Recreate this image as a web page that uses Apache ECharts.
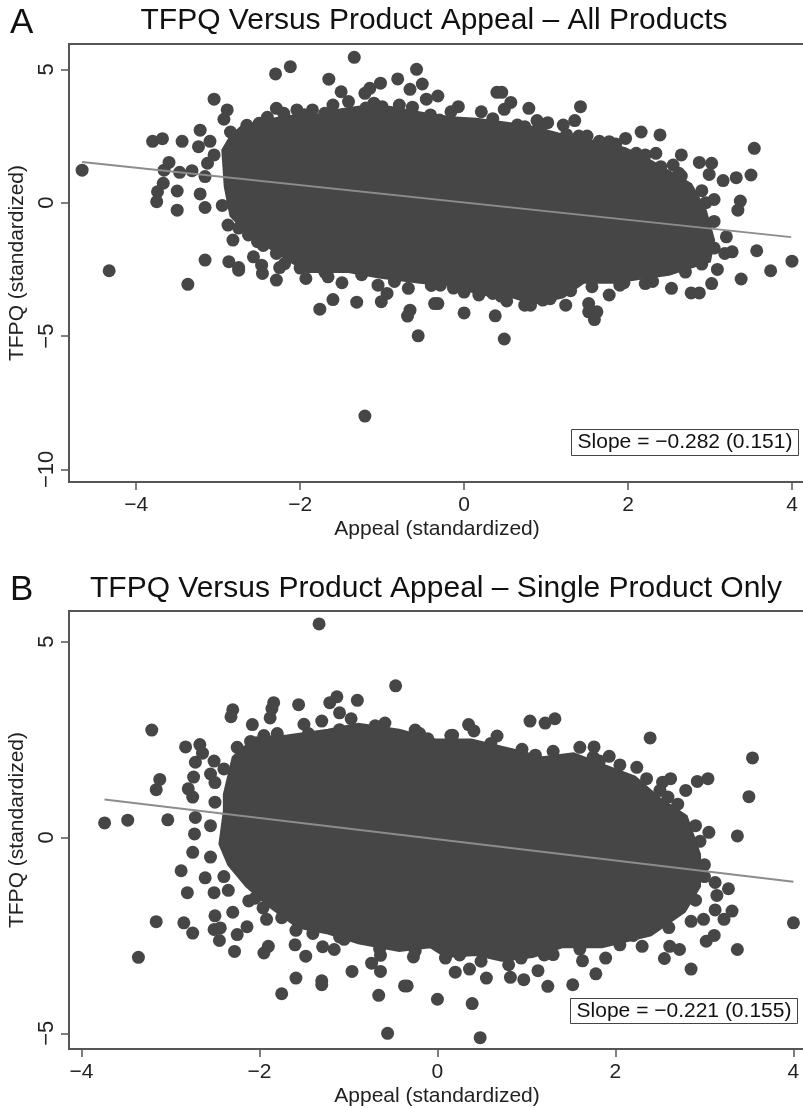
<!DOCTYPE html>
<html><head><meta charset="utf-8">
<style>html,body{margin:0;padding:0;background:#fff;overflow:hidden}#c{width:803px;height:1108px}</style>
<script src="https://cdn.jsdelivr.net/npm/echarts@6/dist/echarts.min.js"></script>
</head><body><div id="c"></div>
<script>
const titleA = 'TFPQ Versus Product Appeal \u2013 All Products';
const titleB = 'TFPQ Versus Product Appeal \u2013 Single Product Only';
const xName = 'Appeal (standardized)';
const yName = 'TFPQ (standardized)';
const slopeA = 'Slope = \u22120.282 (0.151)';
const slopeB = 'Slope = \u22120.221 (0.155)';
const xTicks = [-4,-2,0,2,4];
const yTicksA = [-10,-5,0,5];
const yTicksB = [-5,0,5];
const fitLineA = [[-4.66,1.53],[3.99,-1.29]];
const fitLineB = [[-3.74,0.97],[4.0,-1.13]];

const denseCloudA = [[-2.95,1.98],[-2.85,2.5],[-2.72,2.85],[-2.5,3.05],[-2.16,3.25],[-1.79,3.3],[-1.5,3.5],[-1.29,3.6],[-0.91,3.6],[-0.48,3.35],[-0.16,3.2],[0.15,3.15],[0.52,3.0],[0.84,2.85],[1.15,2.6],[1.52,2.35],[1.96,2.05],[2.21,1.7],[2.46,1.25],[2.77,0.7],[2.95,-0.3],[3.05,-1.4],[3.0,-2.2],[2.5,-2.7],[2.15,-2.85],[1.84,-3.0],[1.46,-3.0],[1.21,-3.55],[0.84,-3.8],[0.59,-3.55],[0.21,-3.45],[-0.16,-3.1],[-0.54,-3.0],[-1.04,-2.8],[-1.41,-2.6],[-1.91,-2.6],[-2.1,-2.25],[-2.35,-1.75],[-2.66,-1.1],[-2.85,-0.5],[-2.92,0.6]];

const pointsA = [[-1.34,5.45],[-2.12,5.10],[-2.30,4.83],[-1.65,4.63],[-1.50,4.16],[-1.21,4.10],[-1.15,4.29],[-1.02,4.48],[-0.81,4.64],[-0.58,5.00],[-0.51,4.45],[-0.66,4.25],[-0.46,3.88],[-0.32,4.0],[0.40,4.14],[0.46,4.14],[0.57,3.76],[0.49,3.50],[0.79,3.54],[1.42,3.60],[1.35,3.08],[1.21,2.91],[1.02,3.0],[0.89,3.08],[0.74,2.85],[2.16,2.65],[2.39,2.54],[3.54,2.04],[3.50,1.04],[3.32,0.94],[3.16,0.83],[2.99,1.06],[3.02,1.48],[2.87,1.51],[2.65,1.79],[2.55,1.41],[2.62,1.10],[2.34,1.85],[2.21,1.79],[1.97,2.41],[1.77,2.29],[1.50,2.5],[3.05,0.12],[3.37,0.06],[3.34,-0.28],[3.20,-1.28],[3.27,-1.84],[3.18,-1.9],[3.57,-1.80],[4.00,-2.19],[3.74,-2.55],[3.09,-2.5],
[-4.66,1.22],[-4.33,-2.55],[-3.80,2.30],[-3.68,2.40],[-3.44,2.30],[-3.22,2.72],[-3.05,3.88],[-2.89,3.48],[-2.93,3.13],[-3.24,2.10],[-3.05,1.79],[-3.60,1.51],[-3.66,1.22],[-3.47,1.14],[-3.32,1.20],[-3.13,1.48],[-3.16,0.98],[-3.67,0.73],[-3.74,0.41],[-3.75,0.04],[-3.50,0.44],[-3.22,0.33],[-3.50,-0.28],[-3.16,-0.18],[-2.88,-0.84],[-2.82,-1.40],[-3.16,-2.15],[-2.87,-2.21],[-2.75,-2.43],[-2.57,-2.03],[-2.47,-2.34],[-2.29,-1.9],[-2.29,-1.34],[-2.19,-2.28],[-2.25,-2.43],[-2.63,-1.21],[-2.52,-1.46],
[-3.37,-3.06],[-2.75,-2.53],[-2.46,-2.65],[-2.29,-2.90],[-1.93,-2.84],[-1.66,-2.78],[-1.49,-3.0],[-1.76,-3.99],[-1.60,-3.63],[-1.31,-3.73],[-1.01,-3.71],[-0.94,-3.4],[-1.05,-3.09],[-0.68,-3.21],[-0.66,-4.03],[-0.69,-4.25],[-0.36,-3.78],[-0.32,-3.78],[-0.56,-4.99],[0,-4.13],[0.38,-4.24],[0.49,-5.11],[-1.21,-8.0],[0.52,-3.68],[0.74,-3.84],[0.81,-3.84],[0.96,-3.65],[1.24,-3.84],[1.52,-3.78],[1.52,-4.09],[1.62,-4.09],[1.59,-4.38],[1.77,-3.46],[1.56,-3.15],[1.90,-3.09],[2.21,-3.03],[2.53,-3.21],[2.77,-3.38],[2.87,-3.38],[3.02,-3.03],[3.38,-2.86],[-0.13,-3.2],[0.18,-3.46],[0.35,-3.4],[-0.29,-3.09],
[-2.50,2.98],[-2.29,3.54],[-2.04,3.48],[-1.85,3.48],[-1.60,3.66],[-1.41,3.79],[-1.10,3.73],[-0.79,3.66],[-0.63,3.58],[-0.41,3.29],[-0.16,3.41],[-0.07,3.6],[0.21,3.41],[0.65,2.91],
[-3.1,2.3],[-2.85,2.65],[-2.65,2.9],[-2.4,3.2],[-2.2,3.35],[-1.95,3.3],[-1.7,3.35],[-1.2,3.55],[-1.0,3.6],[-0.3,3.1],[0.35,3.15],[0.95,2.9],[1.25,2.55],[1.4,2.5],[1.65,2.3],[1.85,2.2],[2.1,1.85],[2.4,1.35],[2.65,1.0],[2.9,0.45],[2.95,0],[3.05,-0.7],[3.05,-1.7],[2.9,-2.3],[2.7,-2.6],[2.3,-2.95],[1.95,-3.0],[1.3,-3.3],[1.05,-3.6],[0.45,-3.5],[0,-3.35],[-0.4,-3.1],[-0.85,-2.95],[-1.25,-2.7],[-1.7,-2.6],[-2.0,-2.45],[-2.45,-1.6],[-2.75,-0.95],[-2.95,-0.1]];

const denseCloudB = [[-2.4,1.1],[-2.3,2.05],[-2.05,2.55],[-1.69,2.6],[-1.23,2.75],[-0.89,2.9],[-0.43,2.75],[-0.02,2.5],[0.38,2.5],[0.84,2.25],[1.18,2.05],[1.53,2.15],[1.93,1.8],[2.22,1.55],[2.5,1.0],[2.8,0.55],[2.95,-0.43],[2.95,-1.25],[2.78,-1.9],[2.4,-2.5],[1.85,-2.8],[1.41,-2.8],[1.07,-3.05],[0.72,-3.15],[0.44,-3.0],[0.09,-3.05],[-0.08,-2.8],[-0.43,-2.9],[-0.89,-2.7],[-1.23,-2.45],[-1.57,-2.3],[-1.9,-1.75],[-2.15,-1.25],[-2.35,-0.7],[-2.45,-0.17],[-2.4,0.68]];

const pointsB = [[-1.33,5.45],[-0.47,3.87],[-1.84,3.44],[-1.86,3.29],[-1.56,3.39],[-1.13,3.59],[-1.21,3.44],[-0.90,3.50],[-1.10,3.18],[-2.30,3.26],[-2.32,3.08],[-1.88,3.05],[-3.21,2.74],[-2.08,2.88],[-1.50,2.89],[-1.30,2.97],[-0.97,3.03],[-0.59,2.92],[1.04,2.97],[1.21,2.92],[1.32,3.03],[2.39,2.54],[3.54,2.03],[3.50,1.04],[3.04,1.50],[2.92,1.43],[2.62,1.50],[2.53,1.41],[2.59,1.03],[2.79,1.20],[2.24,1.79],[1.93,2.07],[1.82,1.95],[1.76,2.31],[0.35,2.88],[0.41,2.72],[0.67,2.59],[-0.25,2.74],[0.17,2.61],[-0.11,2.52],[-2.83,2.31],[-2.67,2.37],[-2.64,2.15],[-2.72,1.92],[-2.51,1.95],[-2.55,1.62],[-2.74,1.54],[-3.12,1.48],[-3.16,1.22],[-2.80,1.24],[-2.75,1.03],[-3.74,0.37],[-3.48,0.44],[-3.03,0.45],[3.05,0.13],[3.37,0.04],[2.79,0.17],[-2.72,0.51],[-2.73,0.09],
[-2.75,-0.38],[-2.88,-0.85],[-2.81,-1.41],[-3.16,-2.15],[-2.85,-2.18],[-2.75,-2.44],[-3.36,-3.06],[-2.51,-1.41],[-2.61,-1.03],[-2.35,-1.35],[-2.50,-2.0],[-2.51,-2.35],[-2.44,-2.31],[-2.45,-2.63],[-2.30,-1.91],[-2.25,-2.48],[-2.14,-2.28],[-2.28,-2.91],[-1.95,-2.95],[-1.90,-2.78],[-2.12,-1.62],[-1.96,-1.80],[-1.92,-2.09],[-1.59,-2.37],[-1.60,-2.74],[-1.48,-3.03],[-1.29,-2.79],[-1.16,-2.86],[-1.10,-2.54],[-1.40,-2.26],[-0.64,-3.01],[-0.74,-3.21],[-0.64,-3.42],[-0.96,-3.42],[-1.59,-3.59],[-1.30,-3.66],[-1.30,-3.76],[-1.75,-3.99],[-0.66,-4.03],[-0.37,-3.79],[-0.34,-3.79],[0,-4.13],[0.39,-4.24],[-0.56,-5.0],[0.48,-5.11],[-0.27,-3.05],[0.20,-3.44],[0.36,-3.36],[0.55,-3.59],[0.82,-3.57],[0.97,-3.63],[1.13,-3.40],[1.24,-3.80],[1.52,-3.76],[1.78,-3.48],[1.63,-3.15],[1.89,-3.08],[2.55,-3.09],[2.85,-3.36],[3.37,-2.86],[3.02,-2.65],[3.11,-2.50],[4.0,-2.18],[3.31,-1.88],[3.22,-2.09],[3.12,-1.85],[2.99,-2.09],[2.85,-2.14],[3.14,-1.48],[3.12,-1.15],[3.27,-1.31],[2.72,-2.86],[2.61,-2.78],[2.30,-2.78],[2.05,-2.74],[1.30,-2.99],[0.94,-3.08],[0.49,-3.16],[0.09,-3.08],
[-2.5,1.4],[-2.4,1.75],[-2.25,2.3],[-2.1,2.45],[-1.95,2.6],[-1.8,2.65],[-1.45,2.65],[-1.1,2.75],[-0.7,2.85],[-0.2,2.65],[0.15,2.6],[0.6,2.4],[0.95,2.25],[1.1,2.1],[1.3,2.2],[1.6,2.3],[1.75,2.05],[2.05,1.85],[2.35,1.5],[2.5,1.2],[2.7,0.85],[2.9,0.3],[2.95,-0.1],[3.0,-0.7],[3.0,-1.0],[2.9,-1.6],[2.6,-2.3],[2.2,-2.5],[1.6,-2.85],[1.2,-3.0],[0.8,-3.25],[0.25,-3.0],[-0.25,-2.9],[-0.65,-2.85],[-1.05,-2.6],[-1.4,-2.45],[-1.75,-2.05],[-2.05,-1.55],[-2.4,-1.0],[-2.55,-0.5],[-2.55,0.3],[-2.5,0.9]];

const INK = '#464646', AXIS = '#555555', LINE = '#8c8c8c';
const FONT = '"Liberation Sans", Arial, sans-serif';
const minus = v => String(v).replace('-', '\u2212');

function xAxis(gridIndex, min, max) {
  return { type:'value', gridIndex, min, max, splitLine:{show:false}, name:xName, nameLocation:'middle',
    nameGap:37, nameTextStyle:{fontFamily:FONT,fontSize:21,color:'#222'},
    axisLine:{show:true,onZero:false,lineStyle:{color:AXIS,width:2}},
    axisTick:{show:true,length:8,customValues:xTicks,lineStyle:{color:AXIS,width:1.5}},
    axisLabel:{customValues:xTicks,formatter:minus,margin:13,fontFamily:FONT,fontSize:21,color:'#222'} };
}
function yAxis(gridIndex, min, max, ticks) {
  return { type:'value', gridIndex, min, max, splitLine:{show:false}, name:yName, nameLocation:'middle',
    nameRotate:90, nameGap:33, nameTextStyle:{fontFamily:FONT,fontSize:21,color:'#222'},
    axisLine:{show:true,onZero:false,lineStyle:{color:AXIS,width:2}},
    axisTick:{show:true,length:8,customValues:ticks,lineStyle:{color:AXIS,width:1.5}},
    axisLabel:{customValues:ticks,formatter:minus,rotate:90,margin:11,fontFamily:FONT,fontSize:22,color:'#222',align:'center',verticalAlign:'bottom'} };
}
function cloud(axisIndex, verts) {
  return { type:'custom', xAxisIndex:axisIndex, yAxisIndex:axisIndex, coordinateSystem:'cartesian2d', data:verts, z:2, silent:true,
    renderItem(params, api) {
      if (params.dataIndex !== 0) return null;
      return { type:'polygon', shape:{points:verts.map(p=>api.coord(p))}, style:{fill:INK,stroke:INK,lineWidth:2} };
    } };
}
function dots(axisIndex, data) {
  return { type:'scatter', xAxisIndex:axisIndex, yAxisIndex:axisIndex, data, symbolSize:13, z:3, silent:true,
    itemStyle:{color:INK,opacity:1}, large:false };
}
function fit(axisIndex, data) {
  return { type:'line', xAxisIndex:axisIndex, yAxisIndex:axisIndex, data, symbol:'none', z:5, silent:true,
    lineStyle:{color:LINE,width:2} };
}
function bigText(text, x, y, size, align) {
  return { text, left:x, top:y, textAlign:align||'left', padding:0,
    textStyle:{fontFamily:FONT,fontSize:size,fontWeight:'normal',color:'#111'} };
}
function box(text, right, top, w, h) {
  return { type:'group', left:right, top, z:10, children:[
    { type:'rect', shape:{x:0,y:0,width:w,height:h}, style:{fill:'#fff',stroke:'#444',lineWidth:1} },
    { type:'text', x:w/2, y:h/2, style:{text, fontFamily:FONT, fontSize:21, fill:'#111', align:'center', verticalAlign:'middle'} }
  ]};
}

const chart = echarts.init(document.getElementById('c'), null, {renderer:'canvas'});
chart.setOption({
  animation:false, backgroundColor:'#fff',
  title:[ bigText('A',10,6,35), bigText(titleA,434,6,30,'center'), bigText('B',10,573,35), bigText(titleB,436,574,30,'center') ],
  grid:[
    {left:69,top:44,width:736,height:438,show:true,borderColor:AXIS,borderWidth:2,backgroundColor:'transparent',outerBoundsMode:'none'},
    {left:69,top:611,width:736,height:438,show:true,borderColor:AXIS,borderWidth:2,backgroundColor:'transparent',outerBoundsMode:'none'}
  ],
  xAxis:[ xAxis(0,-4.82,4.159), xAxis(1,-4.14,4.13) ],
  yAxis:[ yAxis(0,-10.47,5.95,yTicksA), yAxis(1,-5.4,5.78,yTicksB) ],
  series:[ cloud(0,denseCloudA), dots(0,pointsA), fit(0,fitLineA), cloud(1,denseCloudB), dots(1,pointsB), fit(1,fitLineB) ],
  graphic:[ box(slopeA,571,429,227,26), box(slopeB,570,998,227,25) ]
});
</script></body></html>
